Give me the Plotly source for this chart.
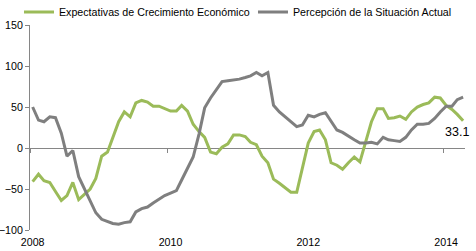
import plotly.graph_objects as go
import pandas as pd

# Monthly observations, Jan 2008 - Apr 2014
dates = [d.strftime("%Y-%m-15") for d in pd.date_range("2008-01-01", periods=76, freq="MS")]

expectativas = [
    -41, -32, -40, -42, -53, -64, -58, -42, -63, -57, -50, -37,
    -10, -5, 13, 32, 44, 38, 55, 58, 56, 51, 51, 48,
    45, 45, 52, 45, 29, 20, 13, -5, -7, 1, 5, 16,
    16, 14, 7, 4, -10, -18, -38, -43, -49, -54, -54, -25,
    6, 20, 22, 10, -18, -21, -26, -18, -11, -17, 9, 32,
    48, 48, 36, 37, 39, 35, 44, 50, 53, 55, 62, 61,
    52, 47, 41, 33.1,
]

percepcion = [
    50, 34, 32, 38, 37, 18, -10, -3, -35, -50, -66, -79,
    -87, -90, -92, -93, -91, -90, -78, -74, -72, -67, -62, -58,
    -55, -52, -39, -25, -11, 17, 49, 61, 72, 81, 82, 83,
    84, 86, 88, 92, 88, 92, 52, 44, 38, 32, 26, 28,
    40, 38, 41, 43, 32, 22, 19, 14, 10, 6, 6, 7,
    5, 13, 10, 9, 8, 13, 22, 29, 29, 30, 36, 44,
    51, 51, 59, 62,
]

series_names = ["Expectativas de Crecimiento Económico", "Percepción de la Situación Actual"]
tick_marks = ["2008-01-01", "2010-01-01", "2012-01-01", "2014-01-01"]
label_pos = ["2008-01-15", "2010-01-15", "2012-01-15", "2014-01-15"]
tick_labels = ["2008", "2010", "2012", "2014"]
y_ticks = [-100, -50, 0, 50, 100, 150]
x_range = ["2008-01-01", "2014-04-25"]

GREEN = "#9BBB59"
GRAY = "#7F7F7F"
AXIS = "#868686"
FONT = "Liberation Sans, Arial, sans-serif"

fig = go.Figure()
fig.add_trace(go.Scatter(x=dates, y=expectativas, mode="lines", name=series_names[0],
                         line=dict(color=GREEN, width=3), xaxis="x", yaxis="y"))
fig.add_trace(go.Scatter(x=dates, y=percepcion, mode="lines", name=series_names[1],
                         line=dict(color=GRAY, width=3), xaxis="x2", yaxis="y"))

fig.add_annotation(x=dates[-1], y=expectativas[-1], text=f"{expectativas[-1]:.1f}",
                   xref="x", yref="y",
                   showarrow=False, xanchor="center", yanchor="middle",
                   xshift=-6, yshift=-11, font=dict(size=12.5, color="#000000", family=FONT))

fig.update_layout(
    width=476, height=251,
    margin=dict(l=30, r=11, t=25, b=21, pad=0, autoexpand=False),
    paper_bgcolor="white", plot_bgcolor="white",
    font=dict(family=FONT, size=10.67, color="#000000"),
    showlegend=True,
    legend=dict(orientation="h", x=-0.0253, xanchor="left", y=1.063, yanchor="middle",
                font=dict(size=10.67, color="#000000", family=FONT),
                bgcolor="rgba(0,0,0,0)", itemwidth=30, tracegroupgap=0,
                entrywidth=189, entrywidthmode="pixels"),
    xaxis=dict(type="date", range=x_range, anchor="free", position=0.4,
               showline=True, linecolor=AXIS, linewidth=1,
               ticks="outside", ticklen=4, tickcolor=AXIS, tickwidth=1,
               tickvals=tick_marks, showticklabels=False, layer="below traces",
               showgrid=False, zeroline=False, fixedrange=True, automargin=False),
    xaxis2=dict(type="date", range=x_range, overlaying="x", anchor="y", side="bottom",
                showline=False, ticks="", tickvals=label_pos, ticktext=tick_labels,
                tickfont=dict(size=10.67, color="#000000", family=FONT),
                ticklabelstandoff=4, showgrid=False, zeroline=False, automargin=False),
    yaxis=dict(range=[-100, 150], tickvals=y_ticks, showline=True, linecolor=AXIS, linewidth=1,
               ticks="outside", ticklen=4, tickcolor=AXIS, layer="below traces",
               tickfont=dict(size=10.67, color="#000000", family=FONT),
               showgrid=False, zeroline=False, automargin=False),
)

fig.write_html("out.html")
